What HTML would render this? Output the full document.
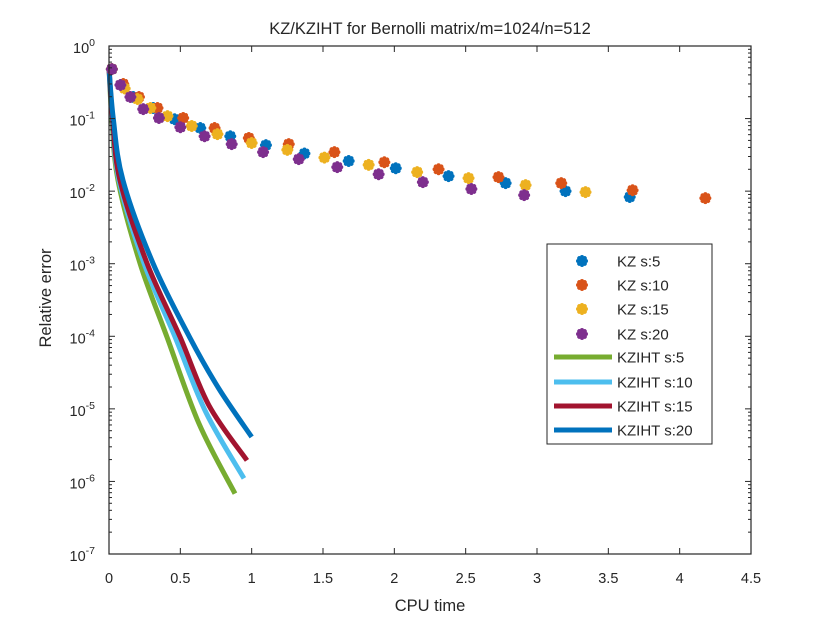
<!DOCTYPE html>
<html><head><meta charset="utf-8"><style>
html,body{margin:0;padding:0;background:#fff;}
svg text{font-family:"Liberation Sans",Arial,sans-serif;fill:#262626;}
</style></head><body>
<svg id="chart" width="830" height="623" viewBox="0 0 830 623" xmlns="http://www.w3.org/2000/svg">
<rect x="0" y="0" width="830" height="623" fill="#fff"/>
<text x="430" y="34" font-size="16.5" text-anchor="middle">KZ/KZIHT for Bernolli matrix/m=1024/n=512</text>
<text x="430" y="611" font-size="16.5" text-anchor="middle">CPU time</text>
<text x="0" y="0" font-size="16.5" text-anchor="middle" transform="translate(51,298) rotate(-90)">Relative error</text>
<g id="series"></g>
<g id="axes"></g>
<g id="legend"></g>
</svg>
<script>
const xTicks=[0,0.5,1,1.5,2,2.5,3,3.5,4,4.5];
const yDecades=[0,-1,-2,-3,-4,-5,-6,-7];
const kzNames=["KZ s:5","KZ s:10","KZ s:15","KZ s:20"];
const kzColors=["#0072BD","#D95319","#EDB120","#7E2F8E"];
const kz5x=[0.02,0.09,0.17,0.31,0.46,0.64,0.85,1.10,1.37,1.68,2.01,2.38,2.78,3.20,3.65];
const kz5y=[0.48,0.29,0.198,0.14,0.098,0.074,0.057,0.043,0.033,0.026,0.0207,0.0161,0.0129,0.010,0.0083];
const kz10x=[0.02,0.10,0.21,0.34,0.52,0.74,0.98,1.26,1.58,1.93,2.31,2.73,3.17,3.67,4.18];
const kz10y=[0.48,0.30,0.198,0.14,0.102,0.074,0.054,0.0445,0.0345,0.025,0.020,0.0156,0.0129,0.0103,0.0080];
const kz15x=[0.02,0.11,0.20,0.29,0.41,0.58,0.76,1.0,1.25,1.51,1.82,2.16,2.52,2.92,3.34];
const kz15y=[0.48,0.26,0.186,0.14,0.108,0.079,0.061,0.046,0.037,0.029,0.023,0.0183,0.0151,0.0121,0.0097];
const kz20x=[0.02,0.08,0.15,0.24,0.35,0.50,0.67,0.86,1.08,1.33,1.60,1.89,2.20,2.54,2.91];
const kz20y=[0.48,0.29,0.198,0.135,0.102,0.076,0.057,0.0445,0.0345,0.0276,0.0214,0.0171,0.0133,0.0107,0.0088];
const ihtNames=["KZIHT s:5","KZIHT s:10","KZIHT s:15","KZIHT s:20"];
const ihtColors=["#77AC30","#4DBEEE","#A2142F","#0072BD"];
const iht5x=[0,0.02,0.063,0.217,0.406,0.63,0.883];
const iht5y=[0.5,0.1,0.0141,1.02e-3,9.8e-5,6.3e-6,6.8e-7];
const iht10x=[0,0.023,0.07,0.245,0.463,0.68,0.946];
const iht10y=[0.5,0.1,0.0141,1.02e-3,9.8e-5,8.9e-6,1.1e-6];
const iht15x=[0,0.025,0.077,0.266,0.498,0.70,0.967];
const iht15y=[0.5,0.1,0.0141,1.02e-3,9.8e-5,1.12e-5,1.95e-6];
const iht20x=[0,0.03,0.098,0.308,0.564,0.77,1.0];
const iht20y=[0.5,0.1,0.0141,1.02e-3,9.8e-5,1.9e-5,4.1e-6];

const X0=109,X1=751,Y0=46,Y1=554;
function sx(v){return X0+v/4.5*(X1-X0);}
function sy(v){return Y0+(-Math.log10(v))/7*(Y1-Y0);}
const NS="http://www.w3.org/2000/svg";
function el(t,a,p){const e=document.createElementNS(NS,t);for(const k in a)e.setAttribute(k,a[k]);p.appendChild(e);return e;}
const axes=document.getElementById('axes'),series=document.getElementById('series'),legend=document.getElementById('legend');

const box=el('rect',{x:X0,y:Y0,width:X1-X0,height:Y1-Y0,fill:'none',stroke:'#262626','stroke-width':1.2},axes);


xTicks.forEach(t=>{
 const x=sx(t);
 el('line',{x1:x,y1:Y1,x2:x,y2:Y1-6,stroke:'#262626'},axes);
 el('line',{x1:x,y1:Y0,x2:x,y2:Y0+6,stroke:'#262626'},axes);
 const tx=el('text',{x:x,y:583,'font-size':14.5,'text-anchor':'middle'},axes);
 tx.textContent=String(t);
 
 
});
yDecades.forEach(d=>{
 const y=sy(Math.pow(10,d));
 el('line',{x1:X0,y1:y,x2:X0+6,y2:y,stroke:'#262626'},axes);
 el('line',{x1:X1,y1:y,x2:X1-6,y2:y,stroke:'#262626'},axes);
 if(d>-7){for(let m=2;m<=9;m++){const yy=sy(Math.pow(10,d-1)*m);
  el('line',{x1:X0,y1:yy,x2:X0+3,y2:yy,stroke:'#262626'},axes);
  el('line',{x1:X1,y1:yy,x2:X1-3,y2:yy,stroke:'#262626'},axes);}}
 const tx=el('text',{x:95,y:y+7,'font-size':14.5,'text-anchor':'end'},axes);
 tx.textContent='10';
 const sp=el('tspan',{dy:-7,'font-size':10.5},tx);
 sp.textContent=String(d);
 
 
});
function pathD(xs,ys){
 const p=xs.map((x,i)=>[sx(x),sy(ys[i])]);
 let d='M'+p[0][0]+','+p[0][1];
 for(let i=0;i<p.length-1;i++){
  const p0=p[i-1]||p[i],p1=p[i],p2=p[i+1],p3=p[i+2]||p2;
  const c1=[p1[0]+(p2[0]-p0[0])/6,p1[1]+(p2[1]-p0[1])/6];
  const c2=[p2[0]-(p3[0]-p1[0])/6,p2[1]-(p3[1]-p1[1])/6];
  d+=' C'+c1[0]+','+c1[1]+' '+c2[0]+','+c2[1]+' '+p2[0]+','+p2[1];
 }
 return d;
}
const ihtX=[iht5x,iht10x,iht15x,iht20x],ihtY=[iht5y,iht10y,iht15y,iht20y];
ihtX.forEach((xs,i)=>{
 const pth=el('path',{d:pathD(xs,ihtY[i]),fill:'none',stroke:ihtColors[i],'stroke-width':5,'stroke-linecap':'butt','stroke-linejoin':'round'},series);
 
 
});
function marker(x,y,c,parent){
 const g=el('g',{},parent);
 for(let a=0;a<4;a++){const ang=a*Math.PI/4;const dx=Math.cos(ang)*4,dy=Math.sin(ang)*4;
  el('line',{x1:x-dx,y1:y-dy,x2:x+dx,y2:y+dy,stroke:c,'stroke-width':4,'stroke-linecap':'round'},g);}
 return g;
}
const kzX=[kz5x,kz10x,kz15x,kz20x],kzY=[kz5y,kz10y,kz15y,kz20y];
kzX.forEach((xs,i)=>{
 xs.forEach((x,j)=>{
  const m=marker(sx(x),sy(kzY[i][j]),kzColors[i],series);
  
  
 });
});
const lb=el('rect',{x:547,y:244,width:165,height:200,fill:'#fff',stroke:'#262626','stroke-width':1},legend);


const rows=[261,285,309,334,357,382,406,430];
kzNames.forEach((n,i)=>{
 const g=el('g',{},legend);
 
 
 marker(582,rows[i],kzColors[i],g);
 const t=el('text',{x:617,y:rows[i]+5.5,'font-size':15},g);t.textContent=n;
});
ihtNames.forEach((n,i)=>{
 const g=el('g',{},legend);
 
 
 const r=rows[i+4];
 el('line',{x1:554,y1:r,x2:612,y2:r,stroke:ihtColors[i],'stroke-width':5},g);
 const t=el('text',{x:617,y:r+5.5,'font-size':15},g);t.textContent=n;
});
</script>
</body></html>
